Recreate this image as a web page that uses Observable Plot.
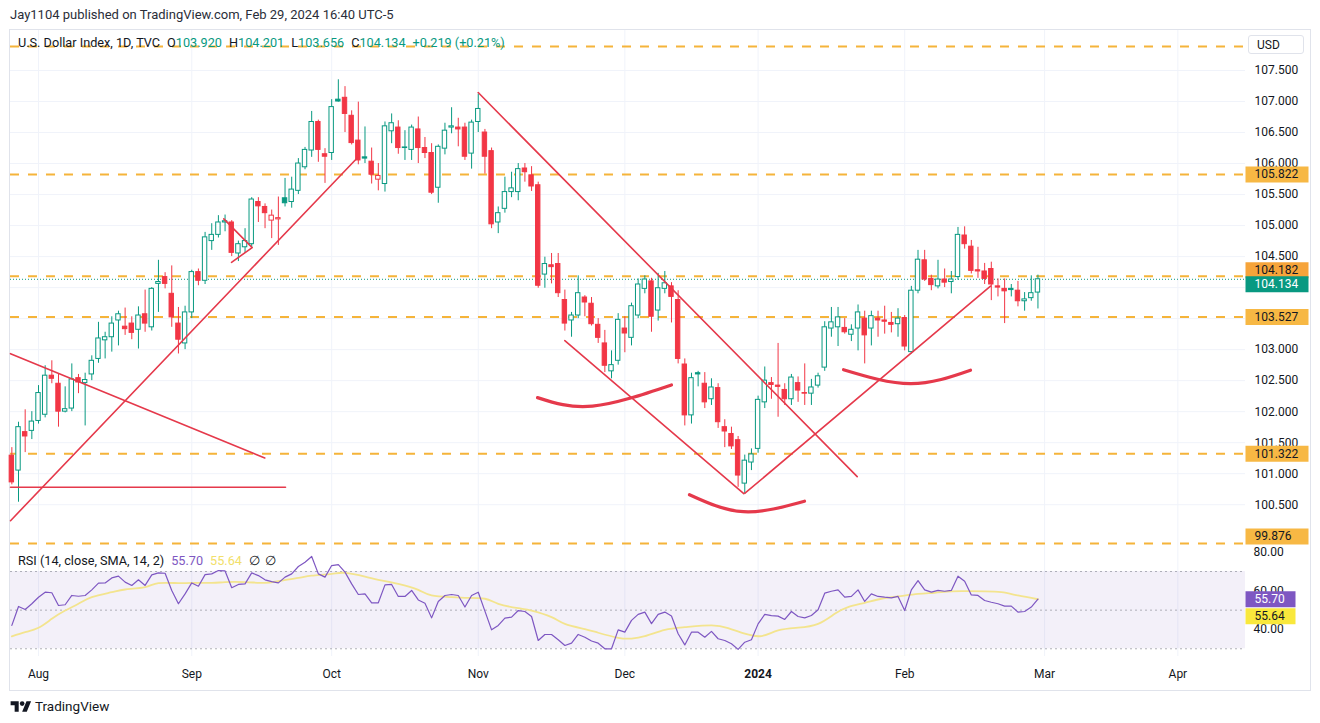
<!DOCTYPE html>
<html><head><meta charset="utf-8">
<script src="https://cdn.jsdelivr.net/npm/d3@7"></script>
<script src="https://cdn.jsdelivr.net/npm/@observablehq/plot@0.6"></script>
<style>
html,body{margin:0;padding:0;background:#fff;}
body{width:1320px;height:723px;position:relative;overflow:hidden;font-family:Roboto,"Noto Sans",sans-serif;color:#131722;}
.abs{position:absolute;white-space:nowrap;}
svg{overflow:visible;display:block;}
#legend span, #rsileg span{margin-left:7px;}
</style></head><body>
<div class="abs" style="left:10px;top:7px;font-size:13px;color:#2a2e39;">Jay1104 published on TradingView.com, Feb 29, 2024 16:40 UTC-5</div>
<div class="abs" style="left:9px;top:29px;width:1300px;height:660px;border:1px solid #e0e3eb;"></div>
<div id="main" class="abs" style="left:0;top:30px;"></div>
<div id="rsi" class="abs" style="left:0;top:547px;"></div>
<div id="legend" class="abs" style="left:18px;top:35px;font-size:12.7px;color:#131722;">U.S. Dollar Index, 1D, TVC<span>O<b style="font-weight:400;color:#089981">103.920</b></span><span>H<b style="font-weight:400;color:#089981">104.201</b></span><span>L<b style="font-weight:400;color:#089981">103.656</b></span><span>C<b style="font-weight:400;color:#089981">104.134</b></span><span style="color:#089981">+0.219 (+0.21%)</span></div>
<div class="abs" style="left:1248px;top:35px;width:56px;height:19px;border:1px solid #e0e3eb;border-radius:3px;background:#fff;font-size:12px;line-height:19px;box-sizing:border-box;padding-left:8px;">USD</div>
<div id="rsileg" class="abs" style="left:18px;top:553px;font-size:12.7px;color:#131722;">RSI (14, close, SMA, 14, 2)<span style="color:#7e57c2">55.70</span><span style="color:#f2e06a">55.64</span><span>∅</span><span style="margin-left:5px">∅</span></div>
<div class="abs" style="left:10px;top:698px;display:flex;align-items:center;font-size:13.5px;color:#131722;">
<svg width="22" height="15" viewBox="0 0 36 26"><path d="M14 22H7V11H0V4h14v18zM28 22h-8l7.5-18h8L28 22z" fill="#131722"/><circle cx="20" cy="8" r="4" fill="#131722"/></svg>
<span style="margin-left:3px">TradingView</span></div>
<script>
// ---------- DATA ----------
const startDate = "2023-07-26";
const holidays = ["2023-12-25", "2024-01-01", "2024-03-29"];
const monthNames = ["Jan","Feb","Mar","Apr","May","Jun","Jul","Aug","Sep","Oct","Nov","Dec"];

const open = [101.29,101.05,101.67,101.69,101.85,101.95,102.58,102.45,102.00,102.05,
102.54,102.46,102.60,102.85,103.15,103.20,103.47,103.37,103.42,103.32,
103.57,103.36,104.06,104.17,103.90,103.42,103.10,103.60,104.25,104.11,
104.75,104.85,105.05,105.05,104.55,104.65,104.70,105.38,105.30,105.08,
105.10,105.44,105.38,105.56,105.94,106.21,106.67,106.15,106.17,107.03,
107.06,106.77,106.37,106.10,106.03,105.74,105.67,106.52,106.58,106.25,
106.22,106.55,106.25,106.17,105.61,106.24,106.58,106.58,106.58,106.16,
106.67,106.50,106.20,105.05,105.27,105.54,105.54,105.92,105.81,105.65,
104.21,104.36,104.38,103.80,103.47,103.55,103.84,103.74,103.40,103.10,
102.65,102.82,103.34,103.19,103.55,103.98,104.10,103.63,103.98,104.02,
103.80,102.76,101.94,102.62,102.45,102.20,102.38,101.75,101.64,101.54,
100.84,101.18,101.40,102.15,102.46,102.42,102.35,102.20,102.46,102.30,
102.29,102.42,102.71,103.34,103.36,103.35,103.24,103.34,103.50,103.34,
103.50,103.47,103.43,103.41,103.51,102.96,103.95,104.44,104.14,104.02,
104.13,104.09,104.17,104.84,104.66,104.28,104.26,104.30,104.02,103.98,
103.98,103.95,103.78,103.83,103.92];
const high = [101.42,101.83,102.03,102.00,102.42,102.74,102.82,102.60,102.40,102.77,
102.60,102.62,102.90,103.44,103.28,103.53,103.62,103.67,103.53,103.69,
103.96,104.00,104.44,104.24,104.35,103.68,103.70,104.28,104.30,104.89,
105.03,105.16,105.17,105.08,104.75,104.95,105.45,105.45,105.35,105.25,
105.46,105.76,105.78,106.08,106.26,106.84,106.70,106.24,107.03,107.35,
107.24,106.85,106.99,106.59,106.25,106.00,106.67,106.80,106.69,106.53,
106.62,106.75,106.42,106.32,106.30,106.65,106.90,106.73,106.65,106.70,
107.12,106.55,106.25,105.30,105.78,105.86,106.00,106.00,105.95,105.70,
104.49,104.55,104.55,103.96,103.60,104.19,103.87,103.84,103.50,103.31,
102.98,103.58,103.53,103.75,104.14,104.19,104.15,104.23,104.26,104.08,
103.95,102.85,102.62,102.65,102.63,102.53,102.45,101.87,101.75,101.60,
101.30,101.40,102.25,102.72,102.55,103.10,102.45,102.60,102.56,102.77,
102.52,102.62,103.45,103.68,103.68,103.50,103.40,103.72,103.62,103.62,
103.62,103.70,103.60,103.66,103.55,104.02,104.60,104.60,104.20,104.44,
104.30,104.26,104.97,104.98,104.76,104.65,104.39,104.41,104.14,104.14,
104.05,104.10,103.92,104.19,104.201];
const low = [100.82,100.54,101.34,101.55,101.80,101.90,102.45,101.75,101.98,102.00,
102.29,101.77,102.50,102.78,102.85,102.96,103.06,103.23,103.16,103.01,
103.28,103.30,103.60,103.98,103.36,102.93,103.00,103.50,104.03,104.05,
104.60,104.80,104.90,104.50,104.42,104.55,104.65,105.05,104.95,104.79,
104.68,105.30,105.28,105.50,105.90,106.10,106.02,105.68,106.05,106.99,
106.50,106.30,105.98,106.00,105.67,105.56,105.54,106.32,106.15,106.05,
106.05,106.00,106.08,105.50,105.36,106.14,106.48,106.27,106.05,105.91,
106.50,105.83,104.95,104.87,105.20,105.45,105.40,105.70,105.55,103.99,
103.99,104.06,103.84,103.30,103.20,103.50,103.53,103.38,103.10,102.63,
102.53,102.75,102.95,103.06,103.50,103.90,103.28,103.46,103.90,103.43,
102.77,101.77,101.80,102.40,102.05,102.10,101.73,101.42,101.39,100.78,
100.67,101.05,101.33,102.05,102.20,101.91,102.10,102.10,102.15,102.10,
102.10,102.38,102.65,103.20,103.05,103.25,103.13,102.98,102.77,103.06,
103.20,103.25,103.27,103.20,102.98,102.93,103.90,104.10,103.95,103.98,
104.00,103.90,104.12,104.62,104.22,104.15,104.05,103.79,103.85,103.42,
103.85,103.69,103.62,103.78,103.656];
const close = [100.86,101.75,101.60,101.84,102.30,102.58,102.53,102.00,102.04,102.52,
102.47,102.51,102.82,103.18,103.20,103.42,103.57,103.33,103.27,103.55,
103.42,103.98,104.09,104.06,103.52,103.16,103.60,104.25,104.11,104.81,
104.85,105.05,105.07,104.56,104.70,104.75,105.42,105.31,105.20,105.16,
105.12,105.36,105.58,106.00,106.22,106.67,106.22,106.11,106.91,107.00,
106.80,106.33,106.05,106.08,105.82,105.80,106.60,106.65,106.25,106.26,
106.58,106.25,106.17,105.53,106.27,106.53,106.60,106.55,106.11,106.66,
106.88,106.11,105.02,105.20,105.54,105.60,105.91,105.86,105.63,104.03,
104.38,104.33,103.91,103.42,103.55,103.91,103.76,103.41,103.19,102.74,
102.75,103.48,103.26,103.70,104.05,104.13,103.53,103.99,104.07,103.85,
102.85,101.94,102.54,102.60,102.15,102.39,101.83,101.68,101.44,100.97,
101.21,101.31,102.19,102.50,102.43,102.40,102.20,102.55,102.34,102.29,
102.39,102.57,103.36,103.44,103.52,103.28,103.32,103.60,103.23,103.54,
103.47,103.45,103.40,103.50,103.05,103.95,104.45,104.13,104.04,104.13,
104.08,104.13,104.85,104.70,104.27,104.26,104.14,104.05,104.00,103.94,
103.96,103.78,103.81,103.91,104.134];

const rsi = [42.1,51.9,50.3,53.3,56.7,59.3,59.0,52.4,52.8,57.6,
57.2,57.6,60.5,64.0,64.1,66.7,67.6,64.5,62.8,65.7,
62.8,68.3,69.3,69.1,60.2,53.3,58.4,64.1,62.4,68.4,
68.8,70.5,70.3,61.6,63.3,63.6,69.3,67.9,65.7,64.8,
64.1,67.1,68.8,72.6,74.8,77.8,68.8,67.1,73.1,73.6,
69.7,63.6,58.1,58.4,53.8,53.8,63.1,63.3,57.1,57.1,
60.2,55.3,53.6,46.0,54.5,57.6,58.1,57.6,51.6,57.6,
59.3,49.5,39.8,42.1,45.9,46.4,49.8,49.3,46.7,34.3,
37.4,37.4,34.7,31.7,32.9,37.4,36.0,34.0,32.9,30.0,
30.0,39.8,38.6,44.7,47.8,49.0,43.0,47.8,49.0,47.0,
37.8,32.0,38.6,38.6,36.0,39.0,35.2,34.3,32.6,29.7,
33.4,34.7,42.9,47.8,47.2,46.9,45.2,49.3,46.7,46.0,
47.2,50.2,58.8,59.8,60.5,56.7,57.1,60.5,54.5,58.4,
57.1,56.7,56.4,57.1,49.8,60.5,65.3,60.5,59.3,60.2,
59.8,60.2,67.6,65.0,57.9,57.6,55.0,54.1,53.3,52.1,
52.1,49.0,49.3,51.6,55.70];

// RSI-based SMA, read at sample bars
const smaIdx = [0,2,4,6,8,10,12,15,17,20,22,25,27,30,32,35,38,40,43,45,48,50,53,55,58,61,63,66,68,71,73,76,78,81,83,86,88,91,93,95,98,101,105,107.5,110,112.5,115,118,121,123.5,125.5,128,130.5,133,136,138.5,141,143.5,146,148.5,151,154];
const smaVal = [36.4,38.6,40.9,45.5,49.8,53.3,56.7,59.3,60.7,61.9,64.0,64.0,64.1,64.1,64.5,64.5,64.1,65.0,66.7,67.9,68.8,69.3,67.4,65.7,63.6,60.5,57.6,56.7,56.4,55.9,53.3,51.0,49.8,46.4,42.9,40.2,38.3,35.7,35.3,36.5,39.8,41.2,42.1,40.7,37.8,36.6,39.5,40.9,42.9,48.1,51.6,53.8,55.9,57.1,58.4,59.0,59.7,59.8,59.7,59.3,57.6,55.64];

const levelValues = [107.887, 105.822, 104.182, 103.527, 101.322, 99.876];
const priceTicks = [100.5,101,101.5,102,102.5,103,103.5,104,104.5,105,105.5,106,106.5,107,107.5];
const rsiTicks = [80, 60, 40];
const rsiLevels = [70, 50, 30];
const rsiLast = 55.70, smaLast = 55.64;

// drawn trend lines: [bar index, price] pairs
const trendLines = [
  [[-0.2,100.782],[41.07,100.782]],
  [[-0.2,102.935],[37.96,101.253]],
  [[-0.2,100.242],[51.83,106.089]],
  [[31.81,105.108],[36.07,104.645],[32.97,104.408]],
  [[69.99,107.145],[126.87,100.952]],
  [[82.99,103.145],[109.85,100.677]],
  [[110.03,100.685],[146.88,104.024]]
];
const arcs = [
  [[78.89,102.226],[87.15,102.089],[99.0,102.431]],
  [[101.7,100.661],[109.81,100.387],[118.96,100.556]],
  [[124.82,102.677],[134.87,102.452],[143.88,102.669]]
];

// ---------- BUILD ----------
const UP = "#089981", DN = "#f23645", RED = "#e5394b", LEVEL = "#f5b43a";
const W = 1320, ML = 10, MR = 75;
const xDomain = [-0.203, 185.15];

function tradingDays(start, n) {
  const out = []; const d = new Date(start + "T00:00:00Z");
  while (out.length < n) {
    const wd = d.getUTCDay(), s = d.toISOString().slice(0, 10);
    if (wd !== 0 && wd !== 6 && !holidays.includes(s)) out.push(new Date(d));
    d.setUTCDate(d.getUTCDate() + 1);
  }
  return out;
}
const days = tradingDays(startDate, 186);
const monthTicks = [];
days.forEach((d, i) => {
  if (i > 0 && d.getUTCMonth() !== days[i - 1].getUTCMonth())
    monthTicks.push({i, label: d.getUTCMonth() === 0 ? String(d.getUTCFullYear()) : monthNames[d.getUTCMonth()], bold: d.getUTCMonth() === 0});
});
const monthIdx = monthTicks.map(t => t.i);
const labelOf = new Map(monthTicks.map(t => [t.i, t.label]));

const bars = open.map((o, i) => {
  const c = close[i], prev = i > 0 ? close[i - 1] : o;
  return {i, o, h: high[i], l: low[i], c, col: c >= prev ? UP : DN, hollow: c > o};
});
const trendPts = trendLines.flatMap((seg, id) => seg.map(([x, y]) => ({id, x, y})));
const arcPts = arcs.flatMap((seg, id) => seg.map(([x, y]) => ({id, x, y})));
const rsiPts = rsi.map((v, i) => ({i, v}));
const smaPts = smaIdx.map((i, k) => ({i, v: smaVal[k]}));

const boxSym = (w, h) => ({draw(ctx) { ctx.moveTo(0, -h / 2); ctx.lineTo(w, -h / 2); ctx.lineTo(w, h / 2); ctx.lineTo(0, h / 2); ctx.closePath(); }});
const xR = () => xDomain[1];
function valueBox(v, text, bg, fg, dy, w) {
  return [
    Plot.dot([v], {x: xR, y: d => d, symbol: boxSym(w, 16), r: 1, fill: bg, stroke: "none", dy}),
    Plot.text([v], {x: xR, y: d => d, text: () => text, dx: 9, dy, textAnchor: "start", fill: fg, fontSize: 12})
  ];
}

const main = Plot.plot({
  width: W, height: 517, marginLeft: ML, marginRight: MR, marginTop: 0, marginBottom: 0,
  style: {background: "transparent", fontFamily: "Roboto", color: "#131722", overflow: "visible"},
  x: {domain: xDomain, axis: null, label: null},
  y: {domain: [99.81, 108.145], label: null},
  color: {type: "identity"},
  marks: [
    Plot.gridY(priceTicks, {stroke: "#f0f3fa", strokeOpacity: 1}),
    Plot.gridX(monthIdx, {stroke: "#f0f3fa", strokeOpacity: 1}),
    Plot.ruleY(levelValues, {stroke: LEVEL, strokeWidth: 2, strokeDasharray: "9,9"}),
    Plot.ruleY([close[close.length - 1]], {stroke: UP, strokeWidth: 1, strokeDasharray: "1,2"}),
    Plot.ruleX(bars, {x: "i", y1: "l", y2: "h", stroke: "col", strokeWidth: 1}),
    Plot.rect(bars, {x1: d => d.i - 0.33, x2: d => d.i + 0.33, y1: "o", y2: "c", fill: d => d.hollow ? "#ffffff" : d.col, stroke: "col", strokeWidth: 1}),
    Plot.line(trendPts, {x: "x", y: "y", z: "id", stroke: RED, strokeWidth: 1.6}),
    Plot.line(arcPts, {x: "x", y: "y", z: "id", stroke: RED, strokeWidth: 3.2, curve: "natural"}),
    Plot.axisY(priceTicks, {anchor: "right", label: null, tickSize: 0, tickPadding: 9, tickFormat: d3.format(".3f"), fontSize: 12, fill: "#131722"}),
    ...valueBox(levelValues[1], levelValues[1].toFixed(3), "#f7b844", "#131722", 0, 63),
    ...valueBox(levelValues[3], levelValues[3].toFixed(3), "#f7b844", "#131722", 0, 63),
    ...valueBox(levelValues[4], levelValues[4].toFixed(3), "#f7b844", "#131722", 0, 63),
    ...valueBox(levelValues[5], levelValues[5].toFixed(3), "#f7b844", "#131722", -7, 63),
    ...valueBox(levelValues[2], levelValues[2].toFixed(3), "#f6a43a", "#131722", -6, 63),
    ...valueBox(close[close.length - 1], close[close.length - 1].toFixed(3), UP, "#ffffff", 5, 63)
  ]
});
document.getElementById("main").appendChild(main);

const regular = monthTicks.filter(t => !t.bold).map(t => t.i);
const boldT = monthTicks.filter(t => t.bold).map(t => t.i);
const rsiPlot = Plot.plot({
  width: W, height: 143, marginLeft: ML, marginRight: MR, marginTop: 0, marginBottom: 34,
  style: {background: "transparent", fontFamily: "Roboto", color: "#131722", overflow: "visible"},
  x: {domain: xDomain, label: null},
  y: {domain: [26.0, 82.44], label: null},
  color: {type: "identity"},
  marks: [
    Plot.gridX(monthIdx, {stroke: "#f0f3fa", strokeOpacity: 1}),
    Plot.rect([rsiLevels], {x1: () => xDomain[0], x2: () => xDomain[1], y1: d => d[2], y2: d => d[0], fill: "#7e57c2", fillOpacity: 0.09}),
    Plot.ruleY(rsiLevels, {stroke: "#9598a1", strokeOpacity: 0.75, strokeDasharray: "2,3"}),
    Plot.line(smaPts, {x: "i", y: "v", stroke: "#f3e48e", strokeWidth: 1.8, curve: "natural"}),
    Plot.line(rsiPts, {x: "i", y: "v", stroke: "#7e57c2", strokeWidth: 1.2}),
    Plot.axisY(rsiTicks, {anchor: "right", label: null, tickSize: 0, tickPadding: 8, tickFormat: d3.format(".2f"), fontSize: 12, fill: "#131722"}),
    ...valueBox(rsiLast, rsiLast.toFixed(2), "#7e57c2", "#ffffff", 0, 50),
    ...valueBox(smaLast, smaLast.toFixed(2), "#f9e83c", "#131722", 17, 50),
    Plot.axisX(regular, {anchor: "bottom", label: null, tickSize: 0, tickPadding: 13, tickFormat: i => labelOf.get(i), fontSize: 12, fill: "#131722"}),
    Plot.axisX(boldT, {anchor: "bottom", label: null, tickSize: 0, tickPadding: 13, tickFormat: i => labelOf.get(i), fontSize: 12, fontWeight: "bold", fill: "#131722"})
  ]
});
document.getElementById("rsi").appendChild(rsiPlot);
</script>
</body></html>
